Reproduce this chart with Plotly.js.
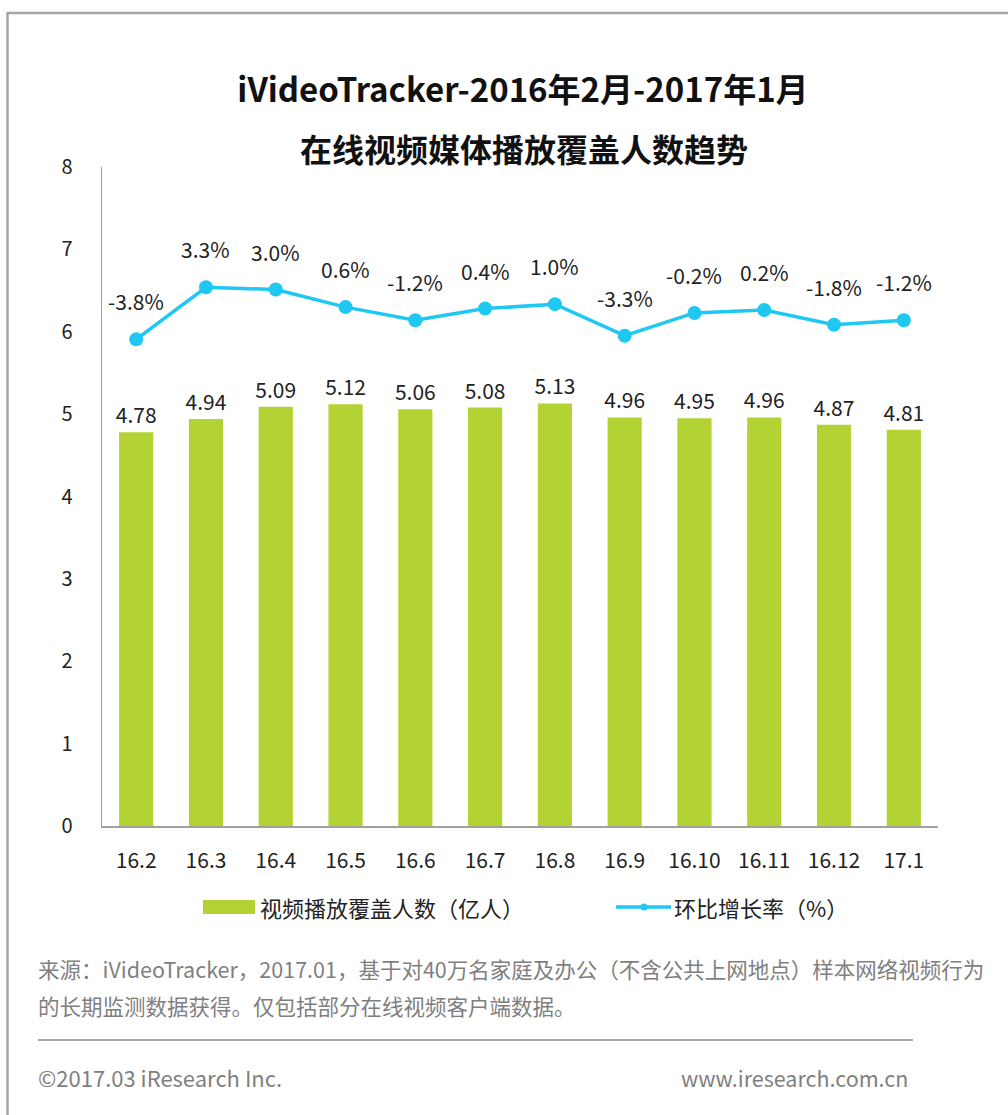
<!DOCTYPE html>
<html>
<head>
<meta charset="utf-8">
<script src="https://cdn.plot.ly/plotly-3.0.1.min.js"></script>
<style>
  html, body { margin: 0; padding: 0; background: #fff; }
  #chart { width: 1008px; height: 1115px; }
</style>
</head>
<body>
<div id="chart"></div>
<script>
// ---- data ----
const categories = ["16.2","16.3","16.4","16.5","16.6","16.7","16.8","16.9","16.10","16.11","16.12","17.1"];
const viewers = [4.78, 4.94, 5.09, 5.12, 5.06, 5.08, 5.13, 4.96, 4.95, 4.96, 4.87, 4.81];
const growthPct = [-3.8, 3.3, 3.0, 0.6, -1.2, 0.4, 1.0, -3.3, -0.2, 0.2, -1.8, -1.2];
const barName = "视频播放覆盖人数（亿人）";
const lineName = "环比增长率（%）";
const titleLine1 = "iVideoTracker-2016年2月-2017年1月";
const titleLine2 = "在线视频媒体播放覆盖人数趋势";
const sourceLine1 = "来源：iVideoTracker，2017.01，基于对40万名家庭及办公（不含公共上网地点）样本网络视频行为";
const sourceLine2 = "的长期监测数据获得。仅包括部分在线视频客户端数据。";
const copyright = "©2017.03 iResearch Inc.";
const website = "www.iresearch.com.cn";

// ---- layout geometry ----
const W = 1008, H = 1115;
const M = { l: 102, r: 70, t: 167, b: 289 };
const plotW = W - M.l - M.r, plotH = H - M.t - M.b;
const px = x => (x - M.l) / plotW;
const py = y => (H - M.b - y) / plotH;

const FONT = "Noto Sans CJK SC, Noto Sans, sans-serif";
const BAR_COLOR = "#b3d334";
const LINE_COLOR = "#1ec8f2";
const TEXT = "#222222";
const GRAY_TEXT = "#7f7f7f";

const barTrace = {
  type: "bar",
  x: categories,
  y: viewers,
  name: barName,
  marker: { color: BAR_COLOR },
  text: viewers.map(v => v.toFixed(2)),
  textposition: "outside",
  constraintext: "none",
  textfont: { family: FONT, size: 21, color: TEXT },
  cliponaxis: false,
  hoverinfo: "x+y",
  showlegend: false
};

const lineTrace = {
  type: "scatter",
  mode: "lines+markers",
  x: categories,
  y: growthPct,
  yaxis: "y2",
  name: lineName,
  line: { color: LINE_COLOR, width: 3.5 },
  marker: { color: LINE_COLOR, size: 14 },
  cliponaxis: false,
  showlegend: false
};

const annotations = [];
categories.forEach((c, i) => {
  annotations.push({
    x: i, y: growthPct[i], xref: "x", yref: "y2",
    text: growthPct[i].toFixed(1) + "%",
    showarrow: false, yshift: 38, yanchor: "middle",
    font: { family: FONT, size: 21, color: TEXT }
  });
});

annotations.push({
  xref: "paper", yref: "paper", x: px(524), y: py(148),
  text: titleLine2, showarrow: false, xanchor: "center", yanchor: "middle",
  font: { family: FONT, size: 32, color: "#111", weight: 700 }
});

// legend (manual)
annotations.push({
  xref: "paper", yref: "paper", x: px(258), y: py(907),
  text: barName, showarrow: false, xanchor: "left", yanchor: "middle",
  font: { family: FONT, size: 22, color: TEXT }
});
annotations.push({
  xref: "paper", yref: "paper", x: px(672), y: py(907),
  text: lineName, showarrow: false, xanchor: "left", yanchor: "middle",
  font: { family: FONT, size: 22, color: TEXT }
});

// footer
annotations.push({
  xref: "paper", yref: "paper", x: px(36), y: py(968),
  text: sourceLine1, showarrow: false, xanchor: "left", yanchor: "middle",
  font: { family: FONT, size: 21.5, color: GRAY_TEXT }
});
annotations.push({
  xref: "paper", yref: "paper", x: px(36), y: py(1005),
  text: sourceLine2, showarrow: false, xanchor: "left", yanchor: "middle",
  font: { family: FONT, size: 21.5, color: GRAY_TEXT }
});
annotations.push({
  xref: "paper", yref: "paper", x: px(36), y: py(1077),
  text: copyright, showarrow: false, xanchor: "left", yanchor: "middle",
  font: { family: FONT, size: 22, color: GRAY_TEXT }
});
annotations.push({
  xref: "paper", yref: "paper", x: px(910), y: py(1077),
  text: website, showarrow: false, xanchor: "right", yanchor: "middle",
  font: { family: FONT, size: 21.5, color: GRAY_TEXT }
});

const shapes = [
  // outer frame (top and left)
  { type: "line", xref: "paper", yref: "paper", x0: px(7), x1: px(1010), y0: py(13), y1: py(13),
    line: { color: "#a6a6a6", width: 2.5 } },
  { type: "line", xref: "paper", yref: "paper", x0: px(7.5), x1: px(7.5), y0: py(12), y1: py(1117),
    line: { color: "#a6a6a6", width: 2.5 } },
  // legend symbols
  { type: "rect", xref: "paper", yref: "paper", x0: px(203), x1: px(255), y0: py(900), y1: py(914),
    fillcolor: BAR_COLOR, line: { width: 0 } },
  { type: "line", xref: "paper", yref: "paper", x0: px(616), x1: px(671), y0: py(907), y1: py(907),
    line: { color: LINE_COLOR, width: 3.5 } },
  { type: "circle", xref: "paper", yref: "paper", x0: px(640.5), x1: px(647.5), y0: py(903.5), y1: py(910.5),
    fillcolor: LINE_COLOR, line: { width: 0 } },
  // footer separator
  { type: "line", xref: "paper", yref: "paper", x0: px(38), x1: px(913), y0: py(1040), y1: py(1040),
    line: { color: "#8c8c8c", width: 1.5 } }
];

const layout = {
  width: W, height: H,
  margin: M,
  paper_bgcolor: "#ffffff",
  plot_bgcolor: "#ffffff",
  showlegend: false,
  bargap: 0.51,
  font: { family: FONT, size: 20, color: TEXT },
  title: {
    text: titleLine1,
    x: 523 / W, xref: "container", xanchor: "center",
    y: 1 - 90 / H, yref: "container", yanchor: "middle",
    font: { family: FONT, size: 33, color: "#111", weight: 700 }
  },
  xaxis: {
    type: "category",
    range: [-0.49, 11.49],
    showgrid: false, zeroline: false,
    showline: true, linecolor: "#a0a0a0", linewidth: 2,
    ticks: "", ticklabelstandoff: 15,
    tickfont: { family: FONT, size: 21, color: TEXT },
    fixedrange: true
  },
  yaxis: {
    range: [0, 8], dtick: 1,
    showgrid: false, zeroline: false,
    showline: true, linecolor: "#a0a0a0", linewidth: 1.5,
    ticks: "", ticklabelstandoff: 24,
    tickfont: { family: FONT, size: 20, color: TEXT },
    fixedrange: true
  },
  yaxis2: {
    overlaying: "y", side: "right",
    range: [-70.18, 19.71],
    showticklabels: false, ticks: "", showline: false,
    showgrid: false, zeroline: false,
    fixedrange: true
  },
  annotations: annotations,
  shapes: shapes
};

Plotly.newPlot("chart", [barTrace, lineTrace], layout, { displayModeBar: false, staticPlot: true });
</script>
</body>
</html>
